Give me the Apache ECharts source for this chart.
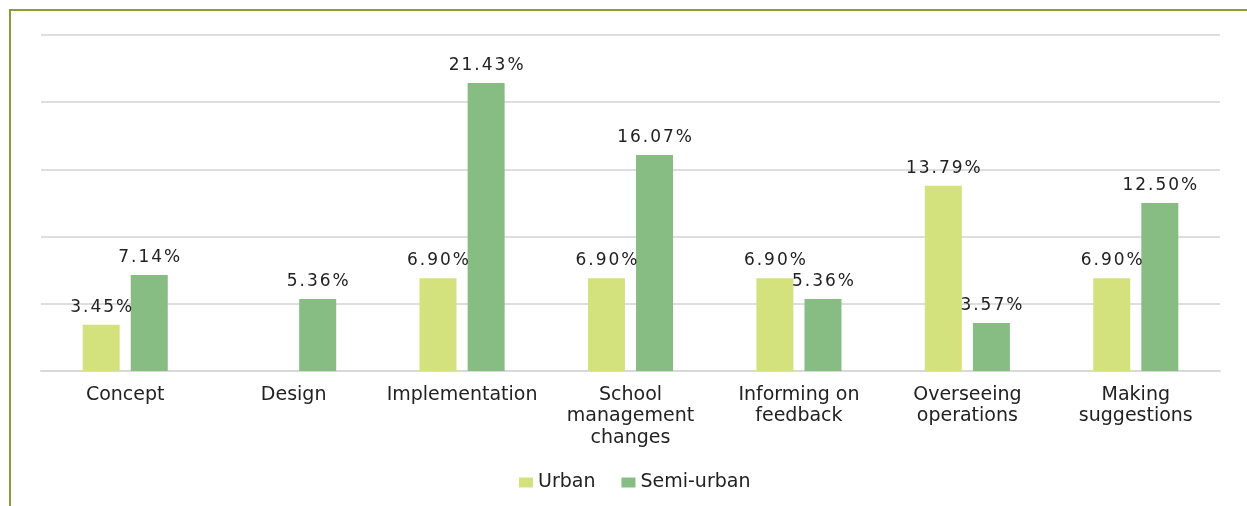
<!DOCTYPE html>
<html>
<head>
<meta charset="utf-8">
<script src="https://cdn.jsdelivr.net/npm/echarts@6/dist/echarts.min.js"></script>
<style>
  html, body { margin: 0; padding: 0; background: #fff; }
  #chart { width: 1247px; height: 506px; }
</style>
</head>
<body>
<div id="chart"></div>
<script>
// categories and values (percent)
var categories = ['Concept', 'Design', 'Implementation', 'School\nmanagement\nchanges',
  'Informing on\nfeedback', 'Overseeing\noperations', 'Making\nsuggestions'];
var urban = [3.45, null, 6.90, 6.90, 6.90, 13.79, 6.90];
var semiUrban = [7.14, 5.36, 21.43, 16.07, 5.36, 3.57, 12.50];

// spread the label characters out like the original
function spaced(p) {
  if (p.value == null) return '';
  var s = p.value.toFixed(2) + '%';
  return s.split('').map(function (ch) { return '{c|' + ch + '}'; }).join('');
}

var labelStyle = {
  show: true,
  position: 'top',
  distance: 9,
  formatter: spaced,
  rich: {
    c: { padding: [0, 1, 0, 1], fontFamily: 'DejaVu Sans', fontSize: 17, color: '#222' }
  }
};

var chart = echarts.init(document.getElementById('chart'));
chart.setOption({
  animation: false,
  textStyle: { fontFamily: 'DejaVu Sans' },
  graphic: [{
    type: 'polyline',
    shape: { points: [[10, 506], [10, 10], [1247, 10]] },
    style: { stroke: '#8c9b3c', lineWidth: 2, fill: null }
  }],
  grid: { left: 41, right: 27, top: 35, bottom: 135 },
  legend: {
    bottom: 9,
    left: 514,
    icon: 'rect',
    itemWidth: 14,
    itemHeight: 10,
    itemGap: 26,
    textStyle: { fontSize: 19, color: '#222', fontFamily: 'DejaVu Sans' }
  },
  xAxis: {
    type: 'category',
    data: categories,
    axisTick: { show: false },
    axisLine: { lineStyle: { color: '#d9d9d9', width: 2 } },
    axisLabel: { interval: 0, margin: 13, fontSize: 19, color: '#222', lineHeight: 21.5 }
  },
  yAxis: {
    type: 'value',
    min: 0,
    max: 25,
    interval: 5,
    axisLabel: { show: false },
    axisLine: { show: false },
    axisTick: { show: false },
    splitLine: { lineStyle: { color: '#dedede', width: 2 } }
  },
  series: [
    {
      name: 'Urban',
      type: 'bar',
      data: urban,
      barWidth: 37,
      barGap: '30%',
      itemStyle: { color: '#d3e27c' },
      label: labelStyle
    },
    {
      name: 'Semi-urban',
      type: 'bar',
      data: semiUrban,
      barWidth: 37,
      itemStyle: { color: '#87bc83' },
      label: labelStyle
    }
  ]
});
</script>
</body>
</html>
